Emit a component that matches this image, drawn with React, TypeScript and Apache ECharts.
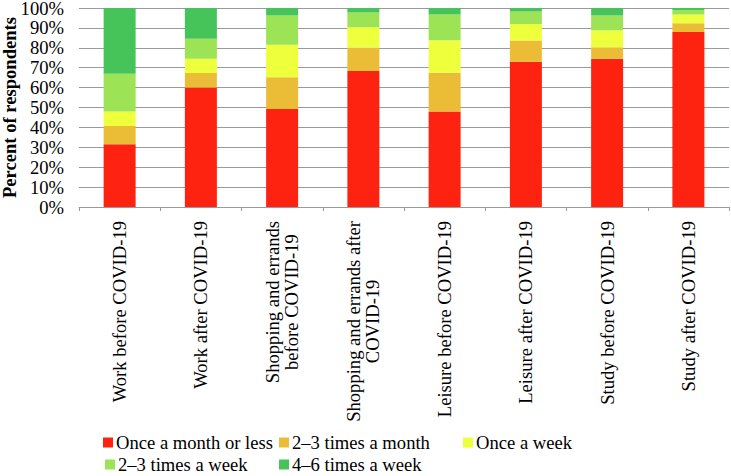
import React, { useEffect, useRef } from "react";
import * as echarts from "echarts";

const categories = [
  "Work before COVID-19",
  "Work after COVID-19",
  "Shopping and errands\nbefore COVID-19",
  "Shopping and errands after\nCOVID-19",
  "Leisure before COVID-19",
  "Leisure after COVID-19",
  "Study before COVID-19",
  "Study after COVID-19",
];

const seriesNames = [
  "Once a month or less",
  "2–3 times a month",
  "Once a week",
  "2–3 times a week",
  "4–6 times a week",
];

const onceMonthOrLess = [31.5, 60, 49.2, 68.3, 48, 73, 74.5, 88];
const twoThreeMonth = [9.2, 7.3, 16, 11.9, 19.5, 10.7, 5.8, 4.3];
const onceWeek = [7.3, 7.2, 16.3, 10.1, 16.3, 8.3, 8.5, 4.4];
const twoThreeWeek = [19, 10, 14.7, 7.4, 12.9, 6.3, 7.4, 2.3];
const fourSixWeek = [33, 15.5, 3.8, 2.3, 3.3, 1.7, 3.8, 1];

const colors = ["#fe2211", "#ebbd36", "#eeff3b", "#9de356", "#46c45a"];

const FONT = "'Liberation Serif', 'Times New Roman', serif";
const FS = 18.6;

export default function App() {
  const ref = useRef<HTMLDivElement>(null);

  useEffect(() => {
    if (!ref.current) return;
    const chart = echarts.init(ref.current, null, { renderer: "svg" });
    const values = [onceMonthOrLess, twoThreeMonth, onceWeek, twoThreeWeek, fourSixWeek];

    const legendPos = [
      { left: 103, top: 433 },
      { left: 279, top: 433 },
      { left: 463, top: 433 },
      { left: 105, top: 455 },
      { left: 279, top: 455 },
    ];

    chart.setOption({
      animation: false,
      backgroundColor: "#ffffff",
      grid: {
        left: 79,
        right: 2,
        top: 8,
        bottom: 269,
        containLabel: false,
        outerBoundsMode: "none",
      },
      legend: seriesNames.map((n, i) => ({
        data: [n],
        left: legendPos[i].left,
        top: legendPos[i].top,
        padding: 0,
        icon: "rect",
        itemWidth: 10,
        itemHeight: 10,
        selectedMode: false,
        textStyle: {
          fontFamily: FONT,
          fontSize: FS,
          lineHeight: 18,
          color: "#000",
          padding: [0, 0, 0, -2],
        },
      })),
      xAxis: {
        type: "category",
        data: categories,
        axisLine: { show: true, lineStyle: { color: "#9a9a9a", width: 1 } },
        axisTick: { show: true, length: 4, alignWithLabel: false, lineStyle: { color: "#9a9a9a" } },
        axisLabel: {
          rotate: 90,
          interval: 0,
          margin: 14,
          color: "#000",
          fontFamily: FONT,
          fontSize: FS,
          formatter: (v: string) =>
            v
              .split("\n")
              .map((l) => "{c|" + l + "}")
              .join("\n"),
          rich: {
            c: { align: "center", fontFamily: FONT, fontSize: FS, lineHeight: 19, color: "#000" },
          },
        },
      },
      yAxis: {
        type: "value",
        min: 0,
        max: 100,
        interval: 10,
        name: "Percent of respondents",
        nameLocation: "middle",
        nameGap: 60,
        nameMoveOverlap: false,
        nameTextStyle: { fontFamily: FONT, fontSize: FS, fontWeight: "bold", color: "#000" },
        axisLine: { show: false },
        axisTick: { show: false },
        axisLabel: {
          formatter: "{value}%",
          margin: 15,
          color: "#000",
          fontFamily: FONT,
          fontSize: FS,
          lineHeight: 15,
        },
        splitLine: { show: true, lineStyle: { color: "#9a9a9a", width: 1 } },
      },
      series: seriesNames.map((n, i) => ({
        name: n,
        type: "bar",
        stack: "total",
        barWidth: 32,
        data: values[i],
        itemStyle: { color: colors[i] },
      })),
    });

    return () => chart.dispose();
  }, []);

  return <div ref={ref} style={{ width: 731, height: 476, position: "absolute", left: 0, top: 0 }} />;
}
